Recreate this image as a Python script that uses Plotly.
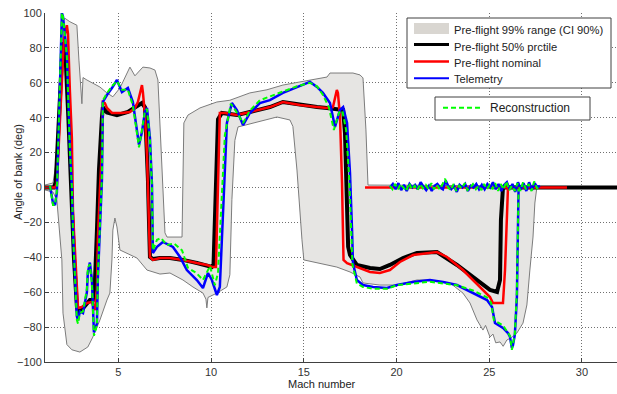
import plotly.graph_objects as go

# ---------------- data (Mach number, bank angle in deg) ----------------
band_upper_mach = [1.04, 1.47, 1.74, 1.84, 2.00, 2.11, 2.38, 2.76, 2.87, 3.03, 3.09, 3.30, 4.00, 4.38, 4.70,
                   5.08, 5.24, 5.62, 5.89, 6.32, 6.70, 6.97, 7.13, 7.51, 7.62, 8.43, 8.53, 8.75, 9.40,
                   10.31, 11.01, 12.09, 13.01, 13.87, 14.79, 15.44, 16.25, 16.41, 17.65, 18.03, 18.19,
                   18.35, 18.46, 27.57]
band_upper_deg = [1.4, 2.6, 21, 60, 95, 97, 95, 93, 73, 48, 63, 61.6, 57.6, 54.2, 52,
                  57, 60.5, 69, 64, 69, 68.5, 67.3, 61.6, -26, -28.4, -28.4, 37, 41.5, 45.6,
                  49, 50, 54.2, 56, 58.7, 60.5, 61.6, 63.3, 65.6, 65.6, 64.5, 62.8,
                  33, 1.4, 0.9]

band_lower_mach = [1.04, 1.47, 1.68, 1.95, 2.01, 2.22, 2.49, 2.92, 3.35, 3.62, 4.00, 4.38, 4.54, 4.65,
                   4.70, 4.81, 4.92, 5.08, 5.46, 6.00, 6.54, 7.24, 7.78, 8.48, 9.02, 9.56, 9.72, 9.77,
                   9.83, 9.94, 10.31, 10.85, 11.01, 11.12, 11.28, 11.45, 12.47, 13.55, 14.25, 14.41,
                   14.63, 14.90, 15.00, 15.71, 16.78, 17.49, 18.03, 18.19, 19.10, 20.02, 21.10, 21.80,
                   22.88, 23.58, 23.96, 24.34, 24.50, 24.66, 24.80, 25.04, 25.20, 25.35, 25.58, 25.75,
                   25.95, 26.20, 26.49, 26.82, 27.03, 27.19, 27.36, 27.46, 27.57]
band_lower_deg = [-1.4, -2.6, -7.2, -41.5, -72, -90, -93, -94.3, -91.4, -85.7, -76, -64.5, -60.5, -41.5,
                  -24.4, -17.5, -22.6, -35.8, -37.5, -40.4, -47.3, -49.6, -49, -53, -57, -60.5, -64, -69,
                  -63, -62.8, -60.5, -57, -50, -7, 27, 34.7, 37.5, 40.4, 38.7, 35,
                  10, -30, -41.5, -43.3, -45.6, -48.4, -51.3, -54.7, -55.9, -55.9, -53, -53,
                  -54.7, -60.5, -66.2, -75.9, -79, -81.7, -79, -85.7, -84, -89, -88.5, -91,
                  -87.4, -86, -83.4, -77.7, -67.3, -47.3, -28.4, -8.9, 0.3]

p50_mach = [1.04, 1.52, 1.62, 1.84, 1.98, 2.06, 2.15, 2.30, 2.45, 2.60, 2.76, 2.82, 3.03, 3.30, 3.46,
            3.62, 3.73, 3.84, 3.95, 4.11, 4.16, 4.38, 4.92, 5.51, 6.00, 6.27, 6.43, 6.50, 6.59, 6.65,
            6.70, 6.86, 7.24, 7.78, 8.48, 9.23, 9.77, 10.04, 10.13, 10.17, 10.26, 10.31, 10.37, 10.58,
            11.39, 12.09, 13.17, 13.87, 14.79, 15.71, 16.25, 17.12, 17.22, 17.33, 17.39, 17.49, 17.86,
            18.57, 19.10, 19.64, 20.35, 21.10, 22.18, 23.26, 24.34, 25.04, 25.42, 25.58, 25.63, 25.74,
            31.89]
p50_deg = [0, 0, 3, 50, 80, 83, 75, 40, 0, -40, -68, -72, -70, -66, -64.5,
           -64.5, -55, -25, 10, 40, 46, 43, 41.5, 43.3, 47, 48.4, 46, 30, 5, -20,
           -39.8, -41, -40.4, -40.4, -41.5, -43.3, -44.4, -45.5, -44, -30, 0, 35, 39, 42.7,
           41.5, 43.3, 46.1, 49, 47.3, 46.1, 45.6, 44.4, 31, -7, -34, -38.7, -44.4,
           -46.1, -46.7, -44.4, -40.4, -37.5, -37, -44.4, -53, -58.7, -59.9, -53, -18.6, 0,
           0]

nominal_mach = [1.04, 1.58, 1.68, 1.84, 2.06, 2.22, 2.28, 2.38, 2.49, 2.55, 2.76, 2.82, 3.03, 3.30,
                3.57, 3.73, 3.84, 3.89, 4.00, 4.11, 4.16, 4.27, 4.38, 4.65, 4.92, 5.19, 5.62, 5.89,
                6.05, 6.27, 6.32, 6.43, 6.54, 6.59, 6.65, 6.70, 6.86, 7.24, 7.78, 8.48, 9.23, 9.77,
                10.10, 10.26, 10.31, 10.37, 10.42, 10.47, 10.74, 11.39, 12.09, 13.17, 13.87, 14.79,
                15.71, 16.25, 16.57, 16.78, 16.84, 16.95, 17.06, 17.12, 17.14, 17.33, 17.86, 18.57,
                19.10, 19.64, 20.18, 20.89, 22.18, 22.72, 23.58, 24.50, 25.04, 25.20, 25.74, 25.85,
                25.95, 26.01, 29.19, None, 18.30, 26.01]
nominal_deg = [0, 0, 2, 40, 85, 93, 88, 56, 28, -14.6, -63, -69, -68.5, -66.2,
               -65.6, -70.2, -58.7, -30, -1.4, 21.5, 49, 48.4, 45.6, 42.7, 42.7, 42.7, 43.3, 45.6,
               49, 58.7, 54.7, 41.5, 18.6, 1.4, -24, -39.8, -41.5, -40.4, -40.4, -41.5, -43.3, -44.4,
               -45.6, -45.6, -24.4, 4.3, 27, 42.7, 42.7, 41.5, 43.3, 46.1, 49, 47.3,
               46.1, 45.6, 46.1, 55.9, 54.2, 40.4, 2.6, -24.4, -41.5, -43.3, -45.6, -48.4,
               -49, -47.3, -42.7, -38.7, -37, -39.8, -47.3, -57, -62.8, -66.2, -66.2, -47.3,
               -18.6, 0, 0, None, 0, 0]

telem_mach = [1.31, 1.41, 1.47, 1.58, 1.68, 1.84, 1.95, 2.01, 2.22, 2.38, 2.49, 2.55, 2.66, 2.76, 2.82,
              2.92, 3.09, 3.30, 3.35, 3.46, 3.57, 3.62, 3.68, 3.84, 3.89, 4.00, 4.11, 4.16, 4.38, 4.65,
              4.92, 5.19, 5.51, 5.78, 6.00, 6.11, 6.27, 6.43, 6.54, 6.70, 6.81, 6.86, 7.08, 7.40, 7.94,
              8.32, 8.69, 9.23, 9.56, 9.83, 10.04, 10.31, 10.47, 10.64, 10.85, 11.12, 11.39, 11.72,
              12.09, 12.63, 13.17, 13.87, 14.63, 15.33, 15.71, 16.03, 16.41, 16.68, 16.95, 17.12,
              17.33, 17.49, 17.60, 17.65, 17.86, 18.19, 18.73, 19.48, 20.02, 20.89, 21.80, 22.51,
              23.26, 24.12, 24.88, 25.15, 25.31, 25.74, 26.01, 26.12, 26.22, 26.28, 26.38, 26.49,
              26.55, 26.58, None,
              19.64, 19.80, 19.95, 20.10, 20.25, 20.40, 20.55, 20.70, 20.85, 21.00, 21.15, 21.30,
              21.45, 21.60, 21.75, 21.90, 22.05, 22.20, 22.35, 22.50, 22.65, 22.80, 22.95, 23.10,
              23.25, 23.40, 23.55, 23.70, 23.85, 24.00, 24.15, 24.30, 24.45, 24.60, 24.75, 24.90,
              25.05, 25.20, 25.35, 25.50, 25.65, 25.80, 25.95, 26.10, 26.25, 26.40, 26.55, 26.70,
              26.85, 27.00, 27.15, 27.30, 27.45, 27.60, 27.73]
telem_deg = [1, -5, -9, -10, -3, 55, 100, 98, 76, 24, 1, -24, -53, -74, -76,
             -71, -72, -60, -49, -43, -53, -72, -83, -78, -53, -24, 4, 49, 53, 57,
             61.6, 54.7, 57, 49, 31.8, 24.4, 31.8, 43.3, 45.6, 28.4, 1.4, -37.5, -34, -31.2, -34.1,
             -39.8, -47.3, -53, -57.6, -49, -53, -61.6, -57, -11, 37, 48.4, 44.4, 35.8,
             42.7, 48.4, 50.1, 54.2, 57.6, 60.5, 57.6, 54.2, 48.4, 34.7, 44.4, 46.1,
             37, 8.3, -24.4, -43.3, -53, -55.9, -57, -57.6, -55.9, -54.2, -53, -54.2,
             -55.9, -60.5, -64.5, -68.5, -77.7, -80.5, -83.4, -85.7, -92, -90.3, -84.5, -62.8,
             -24.4, -1.4, None,
             0, 2, -1, 2.5, -1.5, 1.5, -2, 2, 0, 1.5, -1, 3,
             0.5, -1.5, 1, -2, 1, 2, 0, -1, 4, 0.5, -1, 1,
             -2.5, 1.5, 0, 2, -2, 1, 0, 2, -1, 1.5, -1, 2,
             0, 3, -1, 2, -2, 1.5, 3, -1, 2, -2.5, 3, -1,
             2.5, -2, 3, -1.5, 2.5, 0, 1]

recon_mach = [1.31, 1.41, 1.47, 1.58, 1.68, 1.84, 1.95, 2.01, 2.22, 2.38, 2.49, 2.55, 2.66, 2.76, 2.82,
              2.92, 3.09, 3.30, 3.35, 3.46, 3.57, 3.62, 3.68, 3.84, 3.89, 4.00, 4.11, 4.16, 4.38, 4.65,
              4.92, 5.19, 5.51, 5.78, 6.00, 6.11, 6.27, 6.43, 6.54, 6.70, 6.81, 6.86, 7.08, 7.30, 7.62,
              8.00, 8.43, 8.75, 9.20, 9.56, 9.94, 10.20, 10.37, 10.52, 10.74, 11.06, 11.39, 11.72,
              12.09, 12.63, 13.17, 13.87, 14.63, 15.33, 15.71, 16.03, 16.35, 16.62, 16.90, 17.08,
              17.28, 17.45, 17.56, 17.62, 17.86, 18.19, 18.73, 19.48, 20.02, 20.89, 21.80, 22.51,
              23.26, 24.12, 24.88, 25.10, 25.25, 25.74, 26.01, 26.12, 26.22, 26.28, 26.38, 26.49,
              26.55, 26.58, None,
              19.64, 19.78, 19.92, 20.08, 20.22, 20.38, 20.52, 20.68, 20.82, 20.98, 21.12, 21.28,
              21.42, 21.58, 21.72, 21.88, 22.02, 22.18, 22.32, 22.48, 22.62, 22.78, 22.92, 23.08,
              23.22, 23.38, 23.52, 23.68, 23.82, 23.98, 24.12, 24.28, 24.42, 24.58, 24.72, 24.88,
              25.02, 25.18, 25.32, 25.48, 25.62, 25.78, 25.92, 26.08, 26.22, 26.38, 26.52, 26.68,
              26.82, 26.98, 27.12, 27.28, 27.42, 27.58, 27.73]
recon_deg = [1, -6, -10, -10, -2, 57, 100, 98, 75, 22, 0, -26, -55, -76, -78,
             -72, -71, -58, -46, -44, -55, -73, -85, -79, -51, -22, 6, 50, 54, 58,
             61, 56, 56, 47, 30, 23, 33, 44, 45, 27, 0, -36, -30, -29, -33,
             -32, -36, -46, -49, -53, -45, -56, -49, -15, 30, 48, 43, 37,
             44, 50, 52, 55, 58, 60, 58, 53, 46, 33, 43, 44,
             33, 5, -26, -44, -55, -57, -58, -58, -56, -55, -54, -55,
             -56, -59, -63, -66, -76, -79, -83, -85, -93, -89, -84, -60,
             -22, -1, None,
             1, -1, 2, -1, 2, 0, -2, 2.5, -1, 1, -1.5, 2,
             -0.5, 1.5, -1, 2.5, -1, 1.5, -1, 2, 5, 0, -1.5, 2,
             -2, 1, -0.5, 2.5, -1.5, 0, 2, -1, 1, -1.5, 2, -1,
             1.5, -1, 2.5, -2, 2, -1, 3.5, -1.5, 1, -2, 2.5, -2,
             3, -1, 2, -2, 3.5, -0.5, 1]

y_ticks = [-100, -80, -60, -40, -20, 0, 20, 40, 60, 80, 100]
x_ticks = [5, 10, 15, 20, 25, 30]

legend_labels = ["Pre-flight 99% range (CI 90%)", "Pre-flight 50% prctile",
                 "Pre-flight nominal", "Telemetry"]
legend2_label = "Reconstruction"

# ---------------- styles ----------------
FONT = "Liberation Sans, Arial, sans-serif"
BAND_FILL = "#E6E5E3"
BAND_LINE = "#7C7C7C"
C_P50, W_P50 = "#000000", 4
C_NOM, W_NOM = "#FF0000", 2.5
C_TEL, W_TEL = "#0000FF", 2.5
C_REC, W_REC, D_REC = "#00FF00", 2, "5px,3px"

fig = go.Figure()

fig.add_trace(go.Scatter(
    x=band_upper_mach + band_lower_mach[::-1],
    y=band_upper_deg + band_lower_deg[::-1],
    mode="lines", fill="toself", fillcolor=BAND_FILL,
    line=dict(color=BAND_LINE, width=1),
    name=legend_labels[0], showlegend=False))
fig.add_trace(go.Scatter(x=p50_mach, y=p50_deg, mode="lines",
                         line=dict(color=C_P50, width=W_P50),
                         name=legend_labels[1], showlegend=False))
fig.add_trace(go.Scatter(x=nominal_mach, y=nominal_deg, mode="lines",
                         line=dict(color=C_NOM, width=W_NOM), connectgaps=False,
                         name=legend_labels[2], showlegend=False))
fig.add_trace(go.Scatter(x=telem_mach, y=telem_deg, mode="lines",
                         line=dict(color=C_TEL, width=W_TEL), connectgaps=False,
                         name=legend_labels[3], showlegend=False))
fig.add_trace(go.Scatter(x=recon_mach, y=recon_deg, mode="lines",
                         line=dict(color=C_REC, width=W_REC, dash=D_REC), connectgaps=False,
                         name=legend2_label, showlegend=False))

axis_common = dict(
    showgrid=True, gridcolor="#707070", griddash="1px,2px", gridwidth=1,
    showline=True, linecolor="#404040", linewidth=1,
    ticks="inside", ticklen=4, tickcolor="#404040",
    zeroline=False, tickfont=dict(family=FONT, size=11, color="#333333"),
)

# ---- legend boxes drawn in paper coordinates (plot area: 572 x 349 px) ----
PW, PH, L, T = 572.0, 349.0, 45.0, 13.0
def px(xp):
    return (xp - L) / PW
def py(yp):
    return 1 - (yp - T) / PH

shapes = [
    dict(type="rect", xref="paper", yref="paper", x0=px(407), x1=px(611), y0=py(88), y1=py(18),
         fillcolor="white", line=dict(color="#404040", width=1)),
    dict(type="rect", xref="paper", yref="paper", x0=px(414), x1=px(449), y0=py(34), y1=py(23),
         fillcolor="#D9D6D1", line=dict(width=0)),
    dict(type="line", xref="paper", yref="paper", x0=px(414), x1=px(449), y0=py(44.5), y1=py(44.5),
         line=dict(color=C_P50, width=3)),
    dict(type="line", xref="paper", yref="paper", x0=px(414), x1=px(449), y0=py(61.5), y1=py(61.5),
         line=dict(color=C_NOM, width=2.5)),
    dict(type="line", xref="paper", yref="paper", x0=px(414), x1=px(449), y0=py(78.3), y1=py(78.3),
         line=dict(color=C_TEL, width=2)),
    dict(type="rect", xref="paper", yref="paper", x0=px(435), x1=px(590), y0=py(120), y1=py(97),
         fillcolor="white", line=dict(color="#404040", width=1)),
    dict(type="line", xref="paper", yref="paper", x0=px(443), x1=px(482), y0=py(107.7), y1=py(107.7),
         line=dict(color=C_REC, width=2, dash=D_REC)),
]

annotations = [
    dict(text="Mach number", xref="paper", yref="paper", x=px(322), y=py(376),
         xanchor="center", yanchor="top", showarrow=False,
         font=dict(family=FONT, size=11, color="#222222")),
    dict(text="Angle of bank (deg)", xref="paper", yref="paper", x=px(18),
         y=py(172), xanchor="center", yanchor="middle", textangle=-90,
         showarrow=False, font=dict(family=FONT, size=11, color="#222222")),
]
for lbl, yc in zip(legend_labels, [29.5, 46.5, 63, 79.5]):
    annotations.append(dict(text=lbl, xref="paper", yref="paper", x=px(452), y=py(yc),
                            xanchor="left", yanchor="middle", showarrow=False,
                            font=dict(family=FONT, size=11.2, color="#222222")))
annotations.append(dict(text=legend2_label, xref="paper", yref="paper", x=px(488), y=py(108),
                        xanchor="left", yanchor="middle", showarrow=False,
                        font=dict(family=FONT, size=12, color="#222222")))

fig.update_layout(
    width=617, height=394,
    margin=dict(l=45, r=0, t=13, b=32),
    paper_bgcolor="white", plot_bgcolor="white",
    font=dict(family=FONT, size=11, color="#222222"),
    xaxis=dict(range=[1.04, 31.89], tickvals=x_ticks, **axis_common),
    yaxis=dict(range=[-100, 100], tickvals=y_ticks, **axis_common),
    showlegend=False,
    shapes=shapes,
    annotations=annotations,
)

fig.write_html("out.html")
